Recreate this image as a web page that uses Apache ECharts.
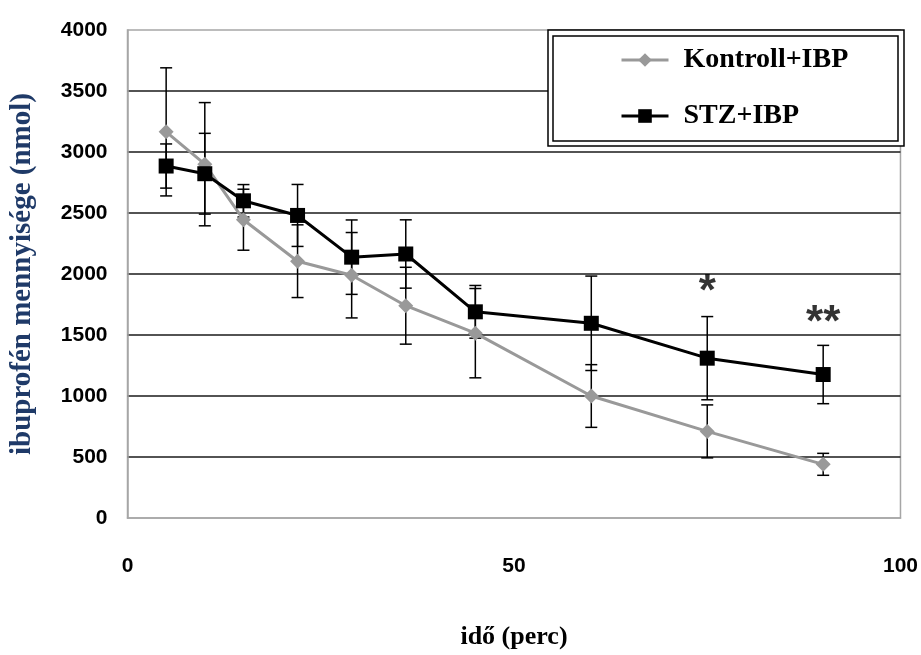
<!DOCTYPE html>
<html>
<head>
<meta charset="utf-8">
<title>Ibuprofén mennyisége</title>
<script src="https://cdn.jsdelivr.net/npm/echarts@6/dist/echarts.min.js"></script>
<style>
  html, body { margin: 0; padding: 0; background: #fff; }
  #chart { width: 921px; height: 655px; }
</style>
</head>
<body>
<div id="chart"></div>
<script>
// Sampling times (perc)
const timePoints = [5, 10, 15, 22, 29, 36, 45, 60, 75, 90];

// Kontroll+IBP: mean and SD (nmol)
const kontrollMean = [3165, 2900, 2445, 2105, 1990, 1740, 1515, 1000, 710, 440];
const kontrollSd   = [525, 505, 250, 298, 350, 315, 366, 257, 217, 90];

// STZ+IBP: mean and SD (nmol)
const stzMean = [2885, 2822, 2600, 2480, 2138, 2164, 1690, 1596, 1310, 1176];
const stzSd   = [181, 331, 133, 254, 305, 280, 216, 387, 341, 239];

// Significance marks above the STZ+IBP curve
const sigTime  = [75, 90];
const sigValue = [1955, 1700];
const sigText  = ['*', '**'];

const seriesNames = ['Kontroll+IBP', 'STZ+IBP'];

const serif = '"Liberation Serif", "Times New Roman", serif';
const sans = '"Liberation Sans", Arial, sans-serif';

const chart = echarts.init(document.getElementById('chart'), null, { renderer: 'canvas' });

function pairs(xs, ys) { return xs.map((x, i) => [x, ys[i]]); }
function triples(xs, ys, es) { return xs.map((x, i) => [x, ys[i], es[i]]); }

// Vertical error bar with caps, positioned through the axis scales
function errorBar(params, api) {
  const x = api.value(0), m = api.value(1), e = api.value(2);
  const top = api.coord([x, m + e]);
  const bot = api.coord([x, m - e]);
  const hw = 6;
  const style = { stroke: '#000', lineWidth: 1.5 };
  return {
    type: 'group',
    children: [
      { type: 'line', shape: { x1: top[0], y1: top[1], x2: bot[0], y2: bot[1] }, style },
      { type: 'line', shape: { x1: top[0] - hw, y1: top[1], x2: top[0] + hw, y2: top[1] }, style },
      { type: 'line', shape: { x1: bot[0] - hw, y1: bot[1], x2: bot[0] + hw, y2: bot[1] }, style }
    ]
  };
}

const option = {
  backgroundColor: '#fff',
  animation: false,
  grid: {
    left: 127.5, right: 13.5, top: 30, bottom: 132.5,
    show: true, borderColor: '#a6a6a6', borderWidth: 1.5, backgroundColor: 'transparent'
  },
  xAxis: {
    type: 'value', min: 0, max: 100, interval: 50,
    name: 'idő (perc)', nameLocation: 'middle', nameGap: 106,
    nameTextStyle: { fontFamily: serif, fontWeight: 'bold', fontSize: 26, color: '#000' },
    axisLine: { show: true, lineStyle: { color: '#a6a6a6', width: 1.5 } },
    axisTick: { show: false },
    splitLine: { show: false },
    axisLabel: { margin: 38, fontFamily: sans, fontWeight: 'bold', fontSize: 21, color: '#000' }
  },
  yAxis: {
    type: 'value', min: 0, max: 4000, interval: 500,
    name: 'ibuprofén mennyisége (nmol)', nameLocation: 'middle', nameGap: 90,
    nameTextStyle: { fontFamily: serif, fontWeight: 'bold', fontSize: 29, color: '#1f3a68' },
    axisLine: { show: true, lineStyle: { color: '#a6a6a6', width: 1.5 } },
    axisTick: { show: false },
    splitLine: { show: true, showMinLine: false, showMaxLine: false, lineStyle: { color: '#1a1a1a', width: 1.5 } },
    axisLabel: {
      margin: 20, fontFamily: sans, fontWeight: 'bold', fontSize: 21, color: '#000',
      formatter: v => String(v)
    }
  },
  legend: {
    data: seriesNames,
    orient: 'vertical',
    left: 615, top: 41,
    itemWidth: 47, itemHeight: 17, itemGap: 28,
    z: 6,
    lineStyle: { width: 3 },
    textStyle: { fontFamily: serif, fontWeight: 'bold', fontSize: 28, color: '#000', padding: [0, 0, 0, 10] }
  },
  graphic: [
    { type: 'rect', z: 5, shape: { x: 548, y: 30, width: 356, height: 116 },
      style: { fill: '#fff', stroke: '#000', lineWidth: 1.5 } },
    { type: 'rect', z: 5, shape: { x: 553, y: 36, width: 345, height: 105 },
      style: { fill: 'none', stroke: '#000', lineWidth: 1.5 } }
  ],
  series: [
    {
      name: 'Kontroll+IBP hiba', type: 'custom', z: 1,
      renderItem: errorBar, data: triples(timePoints, kontrollMean, kontrollSd),
      encode: { x: 0, y: 1 }, silent: true
    },
    {
      name: 'STZ+IBP hiba', type: 'custom', z: 1,
      renderItem: errorBar, data: triples(timePoints, stzMean, stzSd),
      encode: { x: 0, y: 1 }, silent: true
    },
    {
      name: 'Kontroll+IBP', type: 'line', z: 3,
      data: pairs(timePoints, kontrollMean),
      symbol: 'diamond', symbolSize: 15,
      lineStyle: { color: '#999999', width: 3 },
      itemStyle: { color: '#999999' }
    },
    {
      name: 'STZ+IBP', type: 'line', z: 4,
      data: pairs(timePoints, stzMean),
      symbol: 'rect', symbolSize: 15,
      lineStyle: { color: '#000', width: 3 },
      itemStyle: { color: '#000' }
    },
    {
      name: 'szignifikancia', type: 'scatter', z: 4, silent: true,
      symbolSize: 0,
      data: sigTime.map((t, i) => ({ value: [t, sigValue[i]], label: { formatter: sigText[i] } })),
      label: {
        show: true, position: 'inside', offset: [0, 13],
        fontFamily: sans, fontWeight: 'bold', fontSize: 44, color: '#000'
      }
    }
  ]
};

chart.setOption(option);
</script>
</body>
</html>
